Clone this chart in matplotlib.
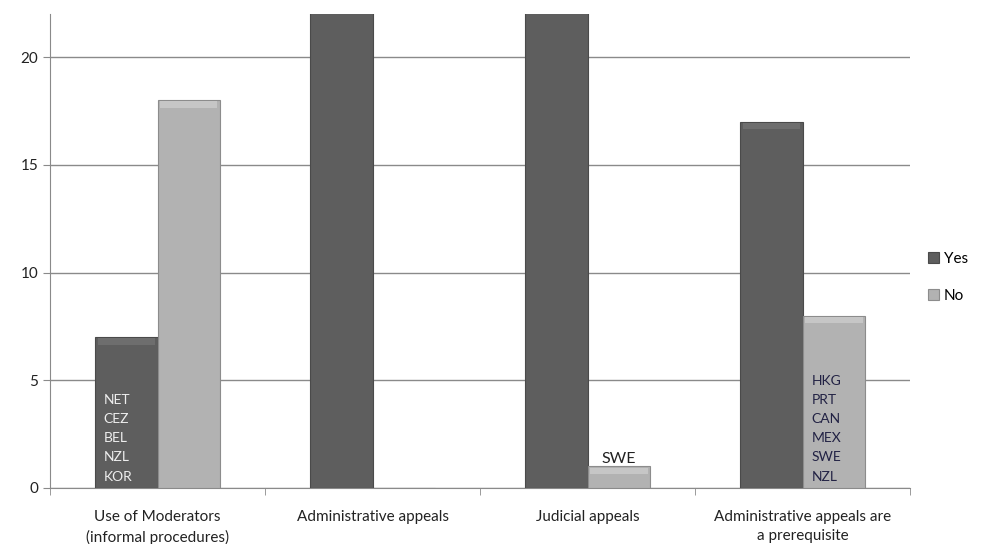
import numpy as np
import matplotlib.pyplot as plt

plt.rcParams['font.family'] = ['Lato', 'DejaVu Sans']

categories = ["Use of Moderators\n(informal procedures)", "Administrative appeals",
              "Judicial appeals", "Administrative appeals are\na prerequisite"]
yes_vals = [7, 27, 27, 17]
no_vals = [18, 0, 1, 8]

fig = plt.figure(figsize=(9.82, 5.44), dpi=100)
ax = fig.add_axes([0.051, 0.103, 0.876, 0.871])

x = np.arange(len(categories))
width = 0.29

yes_col = '#5e5e5e'
no_col = '#b2b2b2'

ax.bar(x - width / 2, yes_vals, width, color=yes_col, edgecolor='#4a4a4a', linewidth=0.8, label='Yes', zorder=3)
ax.bar(x + width / 2, no_vals, width, color=no_col, edgecolor='#8c8c8c', linewidth=0.8, label='No', zorder=3)
# lighter top bevel
ax.bar(x - width / 2, [0.3 if v < 22 else 0 for v in yes_vals], width * 0.92,
       bottom=[v - 0.35 for v in yes_vals], color='#6e6e6e', linewidth=0, zorder=4)
ax.bar(x + width / 2, [0.3 if 0 < v < 22 else 0 for v in no_vals], width * 0.92,
       bottom=[v - 0.35 for v in no_vals], color='#c6c6c6', linewidth=0, zorder=4)

ax.set_ylim(0, 22)
ax.set_xlim(-0.5, 3.5)
ax.set_yticks([0, 5, 10, 15, 20])
ax.yaxis.grid(True, color='#8a8a8a', linewidth=1, zorder=0)
ax.set_xticks(x)
ax.set_xticklabels(categories, fontsize=11, color='#222222', linespacing=1.45)
ax.tick_params(axis='x', length=0, pad=16)
ax.set_xticks([-0.5, 0.5, 1.5, 2.5, 3.5], minor=True)
ax.tick_params(axis='x', which='minor', length=5, color='#8a8a8a')
ax.tick_params(axis='y', length=5, color='#8a8a8a', labelsize=11, labelcolor='#222222')

for s in ['top', 'right']:
    ax.spines[s].set_visible(False)
for s in ['left', 'bottom']:
    ax.spines[s].set_color('#8a8a8a')

yes_labels = ["NET", "CEZ", "BEL", "NZL", "KOR"]
no_labels = ["HKG", "PRT", "CAN", "MEX", "SWE", "NZL"]
ax.text(-width + 0.04, 0.25, "\n".join(yes_labels), color='#eeeeee', fontsize=10,
        va='bottom', ha='left', linespacing=1.72, zorder=5)
ax.text(3 + 0.04, 0.25, "\n".join(no_labels), color='#222244', fontsize=10,
        va='bottom', ha='left', linespacing=1.72, zorder=5)
ax.text(2 + width / 2, 1.0, "SWE", color='#222222', fontsize=11.5, ha='center', va='bottom', zorder=5)

ax.legend(loc='center left', bbox_to_anchor=(1.005, 0.445), frameon=False, fontsize=11,
          handlelength=0.7, handleheight=0.7, handletextpad=0.3, labelspacing=1.5)

fig.savefig('out.png', dpi=100)
